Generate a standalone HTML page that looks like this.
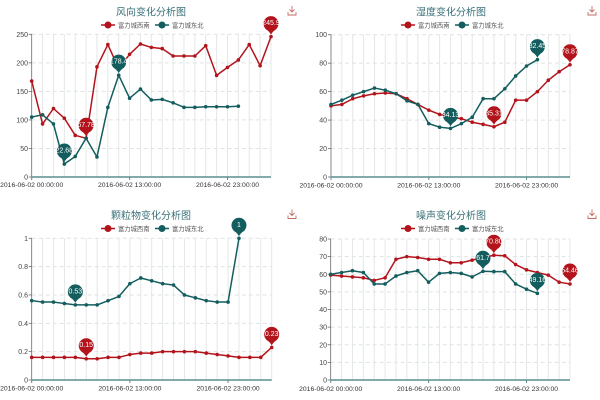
<!DOCTYPE html>
<html><head><meta charset="utf-8">
<style>
html,body{margin:0;padding:0;background:#fff;}
svg{display:block;font-family:"Liberation Sans","Noto Sans CJK SC",sans-serif;}
.tt{font-size:10px;fill:#3b7178;text-anchor:middle;}
.lg{font-size:6.3px;fill:#555;}
.yl{font-size:7px;fill:#444;text-anchor:end;}
.xl{font-size:6.8px;fill:#333;text-anchor:middle;}
.pt{font-size:7px;fill:#fff;text-anchor:middle;dominant-baseline:central;}
</style></head>
<body>
<svg id="s" width="600" height="400" viewBox="0 0 600 400" xmlns="http://www.w3.org/2000/svg">
<rect width="600" height="400" fill="#fff"/>
<g id="grid"></g>
<g id="axes"></g>
<g id="series"></g>
<g id="pins"></g>

<!-- headers -->
<g transform="translate(0,0)">
<text class="tt" x="151" y="15.5">风向变化分析图</text>
<line x1="101" y1="25" x2="115" y2="25" stroke="#b3141c" stroke-width="1.5"/><circle cx="108" cy="25" r="3.5" fill="#b3141c"/>
<text class="lg" x="118" y="27.3">富力城西南</text>
<line x1="155" y1="25" x2="169" y2="25" stroke="#145d5e" stroke-width="1.5"/><circle cx="162" cy="25" r="3.5" fill="#145d5e"/>
<text class="lg" x="172" y="27.3">富力城东北</text>
<g stroke="#c46a63" stroke-width="0.9" fill="none"><line x1="292" y1="6" x2="292" y2="12"/><polyline points="289.5,9.5 292,12 294.5,9.5"/><polyline points="288,12 288,15 296,15 296,12"/></g>
</g>
<g transform="translate(300,0)">
<text class="tt" x="151" y="15.5">湿度变化分析图</text>
<line x1="101" y1="25" x2="115" y2="25" stroke="#b3141c" stroke-width="1.5"/><circle cx="108" cy="25" r="3.5" fill="#b3141c"/>
<text class="lg" x="118" y="27.3">富力城西南</text>
<line x1="155" y1="25" x2="169" y2="25" stroke="#145d5e" stroke-width="1.5"/><circle cx="162" cy="25" r="3.5" fill="#145d5e"/>
<text class="lg" x="172" y="27.3">富力城东北</text>
<g stroke="#c46a63" stroke-width="0.9" fill="none"><line x1="292" y1="6" x2="292" y2="12"/><polyline points="289.5,9.5 292,12 294.5,9.5"/><polyline points="288,12 288,15 296,15 296,12"/></g>
</g>
<g transform="translate(0,203.5)">
<text class="tt" x="151" y="15.5">颗粒物变化分析图</text>
<line x1="101" y1="25" x2="115" y2="25" stroke="#b3141c" stroke-width="1.5"/><circle cx="108" cy="25" r="3.5" fill="#b3141c"/>
<text class="lg" x="118" y="27.3">富力城西南</text>
<line x1="155" y1="25" x2="169" y2="25" stroke="#145d5e" stroke-width="1.5"/><circle cx="162" cy="25" r="3.5" fill="#145d5e"/>
<text class="lg" x="172" y="27.3">富力城东北</text>
<g stroke="#c46a63" stroke-width="0.9" fill="none"><line x1="292" y1="6" x2="292" y2="12"/><polyline points="289.5,9.5 292,12 294.5,9.5"/><polyline points="288,12 288,15 296,15 296,12"/></g>
</g>
<g transform="translate(300,203.5)">
<text class="tt" x="151" y="15.5">噪声变化分析图</text>
<line x1="101" y1="25" x2="115" y2="25" stroke="#b3141c" stroke-width="1.5"/><circle cx="108" cy="25" r="3.5" fill="#b3141c"/>
<text class="lg" x="118" y="27.3">富力城西南</text>
<line x1="155" y1="25" x2="169" y2="25" stroke="#145d5e" stroke-width="1.5"/><circle cx="162" cy="25" r="3.5" fill="#145d5e"/>
<text class="lg" x="172" y="27.3">富力城东北</text>
<g stroke="#c46a63" stroke-width="0.9" fill="none"><line x1="292" y1="6" x2="292" y2="12"/><polyline points="289.5,9.5 292,12 294.5,9.5"/><polyline points="288,12 288,15 296,15 296,12"/></g>
</g>

<!-- y labels -->
<g>
<text class="yl" x="28" y="179.5">0</text><text class="yl" x="28" y="151">50</text><text class="yl" x="28" y="122.4">100</text><text class="yl" x="28" y="93.9">150</text><text class="yl" x="28" y="65.3">200</text><text class="yl" x="28" y="36.8">250</text>
<text class="yl" x="327" y="179.5">0</text><text class="yl" x="327" y="151">20</text><text class="yl" x="327" y="122.6">40</text><text class="yl" x="327" y="94.1">60</text><text class="yl" x="327" y="65.7">80</text><text class="yl" x="327" y="37.2">100</text>
<text class="yl" x="28" y="382.5">0</text><text class="yl" x="28" y="354.2">0.2</text><text class="yl" x="28" y="325.8">0.4</text><text class="yl" x="28" y="297.5">0.6</text><text class="yl" x="28" y="269.1">0.8</text><text class="yl" x="28" y="240.8">1</text>
<text class="yl" x="327" y="382.5">0</text><text class="yl" x="327" y="364.9">10</text><text class="yl" x="327" y="347.3">20</text><text class="yl" x="327" y="329.6">30</text><text class="yl" x="327" y="312">40</text><text class="yl" x="327" y="294.4">50</text><text class="yl" x="327" y="276.8">60</text><text class="yl" x="327" y="259.1">70</text><text class="yl" x="327" y="241.5">80</text>
</g>
<!-- x labels -->
<g>
<text class="xl" x="31.7" y="186.8">2016-06-02 00:00:00</text><text class="xl" x="129.6" y="186.8">2016-06-02 13:00:00</text><text class="xl" x="227.5" y="186.8">2016-06-02 23:00:00</text>
<text class="xl" x="331" y="187.5">2016-06-02 00:00:00</text><text class="xl" x="428.8" y="187.5">2016-06-02 13:00:00</text><text class="xl" x="526.6" y="187.5">2016-06-02 23:00:00</text>
<text class="xl" x="31.7" y="390.5">2016-06-02 00:00:00</text><text class="xl" x="129.9" y="390.5">2016-06-02 13:00:00</text><text class="xl" x="228.1" y="390.5">2016-06-02 23:00:00</text>
<text class="xl" x="330.7" y="391">2016-06-02 00:00:00</text><text class="xl" x="428.6" y="391">2016-06-02 13:00:00</text><text class="xl" x="526.5" y="391">2016-06-02 23:00:00</text>
</g>
<!-- pin labels -->
<g>
<text class="pt" x="271" y="23.6">245.9</text><text class="pt" x="86.1" y="125.3">67.78</text><text class="pt" x="118.7" y="62.2">178.4</text><text class="pt" x="64.3" y="151.1">22.68</text>
<text class="pt" x="570" y="51.8">78.87</text><text class="pt" x="494" y="113.8">35.31</text><text class="pt" x="537.4" y="46.7">82.45</text><text class="pt" x="450.5" y="115.4">34.13</text>
<text class="pt" x="239" y="225.3">1</text><text class="pt" x="75.3" y="291.9">0.53</text><text class="pt" x="271.7" y="334.4">0.23</text><text class="pt" x="86.2" y="345.7">0.15</text>
<text class="pt" x="493.9" y="242.2">70.80</text><text class="pt" x="570" y="271">54.46</text><text class="pt" x="483" y="258.3">61.7</text><text class="pt" x="537.4" y="280.4">49.16</text>
</g>
</svg>
<script>
(function(){
var NS="http://www.w3.org/2000/svg";
var RED="#b3141c",TEAL="#145d5e";
function el(p,n,a){var e=document.createElementNS(NS,n);for(var k in a)e.setAttribute(k,a[k]);p.appendChild(e);return e;}
var G=document.getElementById("grid"),A=document.getElementById("axes"),S=document.getElementById("series"),P=document.getElementById("pins");
var charts=[
{x0:31.7,x1:271,y0:177,yT:34.3,max:250,nt:5,
 red:[168,93,120,103,73,67.78,193,232,190,215,233,227,225,212,212,212,230,178,192,205,232,195,245.9],
 teal:[105,109,93,22.68,36,68,35,122,178.4,138,154,135,136,130,122,122,123,123,123,124],
 pins:[["r",22],["r",5],["t",8],["t",3]]},
{x0:331,x1:570,y0:177,yT:34.7,max:100,nt:5,
 red:[50,51,55,57,58.5,59,58.5,55,51,47,44,42,41,38.5,37,35.31,38.5,54,54,60,68,74,78.87],
 teal:[51,54,57.5,60,62.5,61,58.5,53.5,51,37.5,35,34.13,37.5,42,55,55,62,71,78,82.45],
 pins:[["r",22],["r",15],["t",19],["t",11]]},
{x0:31.7,x1:271.7,y0:380,yT:238.3,max:1,nt:5,
 red:[0.16,0.16,0.16,0.16,0.16,0.15,0.15,0.16,0.16,0.18,0.19,0.19,0.20,0.20,0.20,0.20,0.19,0.18,0.17,0.16,0.16,0.16,0.23],
 teal:[0.56,0.55,0.55,0.54,0.53,0.53,0.53,0.56,0.59,0.68,0.72,0.70,0.68,0.67,0.60,0.58,0.56,0.55,0.55,1],
 pins:[["t",19],["t",4],["r",22],["r",5]]},
{x0:330.7,x1:570,y0:380,yT:239,max:80,nt:8,
 red:[59.5,59,58.5,58,56.5,58,68.5,70,69.5,68.5,68.5,66.5,66.5,68,69.5,70.8,70.5,65.5,62.5,61,59.5,55.5,54.46],
 teal:[60,61,62,61,54.5,54.5,59,61,62,55.5,60.5,61,60.5,58.5,61.7,61.5,61.5,54.5,51.5,49.16],
 pins:[["r",15],["r",22],["t",14],["t",19]]}
];
charts.forEach(function(c){
 var step=(c.x1-c.x0)/22;
 function X(i){return c.x0+i*step;}
 function Y(v){return c.y0-v/c.max*(c.y0-c.yT);}
 for(var i=1;i<=22;i++) el(G,"line",{x1:X(i),y1:c.yT,x2:X(i),y2:c.y0,stroke:"#e4e7e7","stroke-width":1});
 for(var k=1;k<=c.nt;k++){var y=c.y0-k*(c.y0-c.yT)/c.nt;
  el(G,"line",{x1:c.x0,y1:y,x2:c.x1,y2:y,stroke:"#dfe3e3","stroke-width":1,"stroke-dasharray":"4,3"});}
 el(A,"line",{x1:c.x0,y1:c.yT,x2:c.x0,y2:c.y0,stroke:"#6a6a6a","stroke-width":0.8});
 for(var k=0;k<=c.nt;k++){var y=c.y0-k*(c.y0-c.yT)/c.nt;
  el(A,"line",{x1:c.x0-3,y1:y,x2:c.x0,y2:y,stroke:"#6a6a6a","stroke-width":0.8});}
 el(A,"line",{x1:c.x0,y1:c.y0,x2:c.x1,y2:c.y0,stroke:"#5b8d8e","stroke-width":1.4});
 [0,9,18].forEach(function(i){el(A,"line",{x1:X(i),y1:c.y0,x2:X(i),y2:c.y0+3,stroke:"#5b8d8e","stroke-width":1});});
 [["red",RED],["teal",TEAL]].forEach(function(s){
  var d=c[s[0]],pts=d.map(function(v,i){return X(i).toFixed(2)+","+Y(v).toFixed(2);}).join(" ");
  el(S,"polyline",{points:pts,fill:"none",stroke:s[1],"stroke-width":1.5,"stroke-linejoin":"round"});
  d.forEach(function(v,i){el(S,"circle",{cx:X(i),cy:Y(v),r:1.8,fill:s[1]});});
 });
 c.pins.forEach(function(p){
  var col=p[0]=="r"?RED:TEAL,d=p[0]=="r"?c.red:c.teal,x=X(p[1]),y=Y(d[p[1]]);
  var cy=y-13,r=7.5;
  el(P,"path",{d:"M"+(x-5.6)+","+(cy+5)+" Q"+(x-1.5)+","+(y-5)+" "+x+","+(y-2)+" Q"+(x+1.5)+","+(y-5)+" "+(x+5.6)+","+(cy+5)+" Z",fill:col});
  el(P,"circle",{cx:x,cy:cy,r:r,fill:col});
 });
});
})();
</script>
</body></html>
